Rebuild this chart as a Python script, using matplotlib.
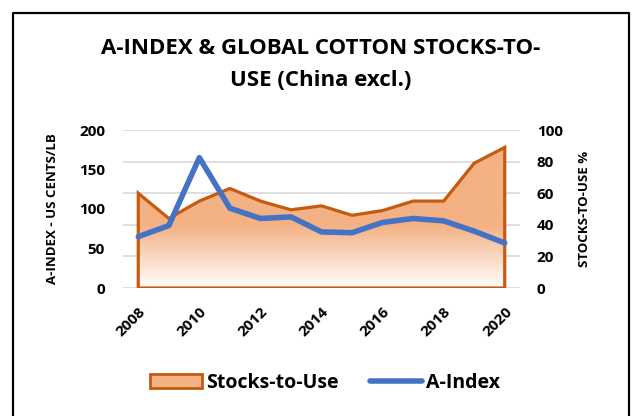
import matplotlib
matplotlib.use("Agg")
import matplotlib.pyplot as plt
import numpy as np
from matplotlib.lines import Line2D
from matplotlib.patches import Patch, Polygon
from matplotlib.colors import to_rgb

plt.rcParams["font.family"] = ["Open Sans", "DejaVu Sans"]
plt.rcParams["font.weight"] = "bold"

# data
years = [2008, 2009, 2010, 2011, 2012, 2013, 2014, 2015, 2016, 2017, 2018, 2019, 2020]
a_index = [65, 79, 165, 101, 88, 90, 71, 70, 83, 88, 85, 72, 57]
stocks_to_use = [60, 44, 55, 63, 55, 49.5, 52, 46, 49, 55, 55, 79, 89]
left_ticks = [0, 50, 100, 150, 200]
right_ticks = [0, 20, 40, 60, 80, 100]
x_ticks = [2008, 2010, 2012, 2014, 2016, 2018, 2020]

ORANGE_EDGE = "#C55A11"
ORANGE_FILL = "#F4B183"
BLUE = "#4472C4"
GRID = "#D9D9D9"

W, H = 642, 416
fig = plt.figure(figsize=(W / 100, H / 100), dpi=100)

l, r, b, t = 123, 520, 288, 130
ax2 = fig.add_axes([l / W, 1 - b / H, (r - l) / W, (b - t) / H])
ax = ax2.twinx()
# left axis (A-Index line) drawn above the area on the right axis
ax.yaxis.tick_left()
ax.yaxis.set_label_position("left")
ax2.yaxis.tick_right()
ax2.yaxis.set_label_position("right")
ax.set_zorder(ax2.get_zorder() + 1)
ax.patch.set_visible(False)
ax2.patch.set_visible(False)

xlim = (2007.5, 2020.5)

# stocks-to-use area with vertical gradient
ax2.set_ylim(0, 100)
ax2.set_xlim(*xlim)
ax2.set_yticks(right_ticks)
for v in right_ticks:
    ax2.axhline(v, color=GRID, lw=1.2, zorder=0.5)

verts = [(years[0], 0)] + list(zip(years, stocks_to_use)) + [(years[-1], 0)]
poly = Polygon(verts, closed=True, facecolor="none", edgecolor=ORANGE_EDGE,
               lw=2.3, joinstyle="miter", zorder=3)
ax2.add_patch(poly)

n = 256
vals = np.linspace(100, 0, n)
frac = np.clip(vals / 40.0, 0, 1)
c0 = np.array(to_rgb(ORANGE_FILL))
grad = np.ones((n, 1, 3)) * (1 - frac[:, None, None]) + c0 * frac[:, None, None]
img = ax2.imshow(grad, extent=[xlim[0], xlim[1], 0, 100], aspect="auto",
                 origin="upper", zorder=2, interpolation="bilinear")
img.set_clip_path(poly)

# A-Index line
ax.plot(years, a_index, color=BLUE, lw=4, solid_capstyle="round",
        solid_joinstyle="round", zorder=4)
ax.set_ylim(0, 200)
ax.set_xlim(*xlim)
ax.set_yticks(left_ticks)

for a in (ax, ax2):
    for s in a.spines.values():
        s.set_visible(False)
    a.tick_params(length=0, labelsize=11)
ax.tick_params(axis="y", pad=13)
ax2.tick_params(axis="y", pad=12)

ax2.set_xticks(x_ticks)
ax2.set_xticklabels([str(x) for x in x_ticks], rotation=45, ha="right",
                    va="top", rotation_mode="anchor", fontsize=11,
                    fontweight="bold")
ax2.tick_params(axis="x", pad=12)
for lab in ax.get_yticklabels() + ax2.get_yticklabels():
    lab.set_fontweight("bold")

ax.set_ylabel("A-INDEX - US CENTS/LB", fontsize=9.5, fontweight="bold",
              labelpad=14)
ax2.set_ylabel("STOCKS-TO-USE %", fontsize=9.5, fontweight="bold", rotation=90,
               labelpad=11)

fig.text(0.5, 1 - 48 / H, "A-INDEX & GLOBAL COTTON STOCKS-TO-", ha="center",
         va="center", fontsize=16, fontweight="bold")
fig.text(0.5, 1 - 80 / H, "USE (China excl.)", ha="center", va="center",
         fontsize=16, fontweight="bold")

handles = [Patch(facecolor=ORANGE_FILL, edgecolor=ORANGE_EDGE, lw=2),
           Line2D([], [], color=BLUE, lw=4, solid_capstyle="round")]
fig.legend(handles, ["Stocks-to-Use", "A-Index"], loc="center",
           bbox_to_anchor=(325 / W, 1 - 383 / H), ncol=2, frameon=False,
           prop={"size": 14, "weight": "bold"}, handlelength=2.7,
           handletextpad=0.2, columnspacing=1.6)

# chart frame (no bottom edge visible)
fx0, fx1, fy1 = 13 / W, 629 / W, 1 - 13 / H
fig.add_artist(Line2D([fx0, fx0, fx1, fx1], [0, fy1, fy1, 0],
                      transform=fig.transFigure, color="black", lw=1.6))

fig.savefig("out.png", dpi=100)
